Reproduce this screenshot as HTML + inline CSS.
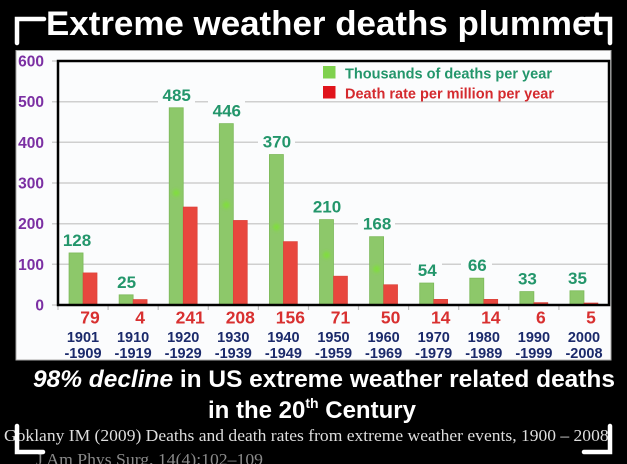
<!DOCTYPE html>
<html><head><meta charset="utf-8"><style>
html,body{margin:0;padding:0;background:#000;}
svg{display:block;}
text{font-family:"Liberation Sans",Arial,sans-serif;}
.serif{font-family:"Liberation Serif","Times New Roman",serif;}
</style></head><body>
<svg width="627" height="464" viewBox="0 0 627 464" xmlns="http://www.w3.org/2000/svg">
<defs><filter id="bl" x="-1" y="-1" width="3" height="3"><feGaussianBlur stdDeviation="1.6"/></filter></defs>
<rect width="627" height="464" fill="#000"/>
<!-- Title -->
<text x="46" y="35" font-size="34" font-weight="bold" fill="#fff" textLength="557" lengthAdjust="spacingAndGlyphs">Extreme weather deaths plummet</text>

<!-- Panel -->
<rect x="16" y="50.5" width="595" height="309.5" fill="#fbfcfd" stroke="#a8a8a8" stroke-width="1"/>

<!-- gridlines -->
<g stroke="#cfcfcf" stroke-width="1.5">
<line x1="52" y1="61" x2="58" y2="61"/>
<line x1="52" y1="101.7" x2="609" y2="101.7"/>
<line x1="52" y1="142.3" x2="609" y2="142.3"/>
<line x1="52" y1="183" x2="609" y2="183"/>
<line x1="52" y1="223.7" x2="609" y2="223.7"/>
<line x1="52" y1="264.3" x2="609" y2="264.3"/>
<line x1="52" y1="305" x2="58" y2="305"/>
</g>
<!-- bottom ticks -->
<g stroke="#bdbdbd" stroke-width="1.2">
<line x1="58" y1="305" x2="58" y2="310"/><line x1="108.1" y1="305" x2="108.1" y2="310"/><line x1="158.2" y1="305" x2="158.2" y2="310"/><line x1="208.3" y1="305" x2="208.3" y2="310"/><line x1="258.4" y1="305" x2="258.4" y2="310"/><line x1="308.5" y1="305" x2="308.5" y2="310"/><line x1="358.5" y1="305" x2="358.5" y2="310"/><line x1="408.6" y1="305" x2="408.6" y2="310"/><line x1="458.7" y1="305" x2="458.7" y2="310"/><line x1="508.8" y1="305" x2="508.8" y2="310"/><line x1="558.9" y1="305" x2="558.9" y2="310"/>
</g>

<!-- Y labels -->
<g font-size="15.5" font-weight="bold" fill="#7b2fa3" text-anchor="end">
<text x="44" y="66.5">600</text>
<text x="44" y="107.2">500</text>
<text x="44" y="147.8">400</text>
<text x="44" y="188.5">300</text>
<text x="44" y="229.2">200</text>
<text x="44" y="269.8">100</text>
<text x="44" y="310.5">0</text>
</g>

<!-- Green bars -->
<g fill="#8dc86a" stroke="#7cb95a" stroke-width="0.8">
<rect x="69.05" y="252.95" width="14" height="52.05"/>
<rect x="119.14" y="294.83" width="14" height="10.17"/>
<rect x="169.23" y="107.77" width="14" height="197.23"/>
<rect x="219.32" y="123.63" width="14" height="181.37"/>
<rect x="269.41" y="154.53" width="14" height="150.47"/>
<rect x="319.5" y="219.6" width="14" height="85.4"/>
<rect x="369.59" y="236.68" width="14" height="68.32"/>
<rect x="419.68" y="283.04" width="14" height="21.96"/>
<rect x="469.77" y="278.16" width="14" height="26.84"/>
<rect x="519.86" y="291.58" width="14" height="13.42"/>
<rect x="569.95" y="290.77" width="14" height="14.23"/>
</g>
<!-- artifacts -->
<g fill="#7ee236" filter="url(#bl)" opacity="0.85">
<circle cx="176.2" cy="193" r="3.5"/>
<circle cx="226.3" cy="205" r="3.5"/>
<circle cx="276.4" cy="227" r="3.5"/>
<circle cx="326.5" cy="255" r="3.5"/>
<circle cx="376.6" cy="269" r="3.5"/>
</g>
<!-- Red bars -->
<g fill="#e8473e" stroke="#d94038" stroke-width="0.6">
<rect x="83.05" y="272.87" width="14" height="32.13"/>
<rect x="133.14" y="299.5" width="14" height="5.5"/>
<rect x="183.23" y="206.99" width="14" height="98.01"/>
<rect x="233.32" y="220.41" width="14" height="84.59"/>
<rect x="283.41" y="241.56" width="14" height="63.44"/>
<rect x="333.5" y="276.13" width="14" height="28.87"/>
<rect x="383.59" y="284.67" width="14" height="20.33"/>
<rect x="433.68" y="299.31" width="14" height="5.69"/>
<rect x="483.77" y="299.31" width="14" height="5.69"/>
<rect x="533.86" y="302.56" width="14" height="2.44"/>
<rect x="583.95" y="302.97" width="14" height="2.03"/>
</g>

<!-- label backgrounds -->
<g fill="#fbfcfd">
<rect x="59" y="230" width="36" height="19"/>
<rect x="111" y="272" width="31" height="19"/>
<rect x="158" y="85" width="37" height="19"/>
<rect x="208" y="101" width="37" height="19"/>
<rect x="258" y="132" width="37" height="19"/>
<rect x="308" y="197" width="37" height="19"/>
<rect x="358" y="214" width="37" height="19"/>
<rect x="411" y="260" width="31" height="19"/>
<rect x="461" y="255" width="31" height="19"/>
<rect x="511" y="269" width="31" height="19"/>
<rect x="561" y="268" width="31" height="19"/>
</g>
<!-- green value labels -->
<g font-size="17" font-weight="bold" fill="#23966b" text-anchor="middle">
<text x="77" y="246">128</text>
<text x="126.6" y="287.8">25</text>
<text x="176.7" y="100.8">485</text>
<text x="226.8" y="116.6">446</text>
<text x="276.9" y="147.5">370</text>
<text x="327" y="212.6">210</text>
<text x="377.1" y="229.7">168</text>
<text x="427.2" y="276">54</text>
<text x="477.3" y="271.2">66</text>
<text x="527.4" y="284.6">33</text>
<text x="577.5" y="283.8">35</text>
</g>

<!-- Frame -->
<rect x="58" y="61" width="551" height="244" fill="none" stroke="#000" stroke-width="2.5"/>

<!-- Legend -->
<rect x="323" y="66" width="12.5" height="12.5" fill="#7fd14e"/>
<rect x="323" y="86" width="12.5" height="12.5" fill="#e0141c"/>
<text x="345" y="78.5" font-size="14.5" font-weight="bold" fill="#23966b" textLength="207" lengthAdjust="spacingAndGlyphs">Thousands of deaths per year</text>
<text x="345" y="98.5" font-size="14.5" font-weight="bold" fill="#d42a2e" textLength="209" lengthAdjust="spacingAndGlyphs">Death rate per million per year</text>

<!-- red value labels -->
<g font-size="17.5" font-weight="bold" fill="#d83030" text-anchor="middle">
<text x="90" y="323.5">79</text>
<text x="140.1" y="323.5">4</text>
<text x="190.2" y="323.5">241</text>
<text x="240.3" y="323.5">208</text>
<text x="290.4" y="323.5">156</text>
<text x="340.5" y="323.5">71</text>
<text x="390.6" y="323.5">50</text>
<text x="440.7" y="323.5">14</text>
<text x="490.8" y="323.5">14</text>
<text x="540.9" y="323.5">6</text>
<text x="591" y="323.5">5</text>
</g>
<!-- year labels -->
<g font-size="14.5" font-weight="bold" fill="#1b2a6b" text-anchor="middle">
<text x="83" y="342">1901</text><text x="83" y="358">-1909</text>
<text x="133.1" y="342">1910</text><text x="133.1" y="358">-1919</text>
<text x="183.2" y="342">1920</text><text x="183.2" y="358">-1929</text>
<text x="233.3" y="342">1930</text><text x="233.3" y="358">-1939</text>
<text x="283.4" y="342">1940</text><text x="283.4" y="358">-1949</text>
<text x="333.5" y="342">1950</text><text x="333.5" y="358">-1959</text>
<text x="383.6" y="342">1960</text><text x="383.6" y="358">-1969</text>
<text x="433.7" y="342">1970</text><text x="433.7" y="358">-1979</text>
<text x="483.8" y="342">1980</text><text x="483.8" y="358">-1989</text>
<text x="533.9" y="342">1990</text><text x="533.9" y="358">-1999</text>
<text x="584" y="342">2000</text><text x="584" y="358">-2008</text>
</g>

<!-- Bottom text -->
<text x="33" y="387" font-size="24" font-weight="bold" fill="#fff" textLength="582" lengthAdjust="spacingAndGlyphs"><tspan font-style="italic">98% decline</tspan> in US extreme weather related deaths</text>
<text x="208" y="418" font-size="24" font-weight="bold" fill="#fff">in the 20<tspan font-size="14" dy="-10">th</tspan><tspan dy="10"> Century</tspan></text>

<text class="serif" x="4" y="441" font-size="17" fill="#dedede" textLength="609" lengthAdjust="spacingAndGlyphs">Goklany IM (2009) Deaths and death rates from extreme weather events, 1900 – 2008.</text>
<text class="serif" x="36" y="465" font-size="17" fill="#8a8a8a" textLength="227" lengthAdjust="spacingAndGlyphs">J Am Phys Surg, 14(4):102–109</text>

<!-- Corner brackets -->
<g stroke="#fff" stroke-width="4.5" fill="none" stroke-linecap="round" stroke-linejoin="miter">
<path d="M17,43 V19 H44"/>
<path d="M586,19 H610 V43"/>
<path d="M17,426 V452 H43"/>
<path d="M584,452 H610 V426"/>
</g>
</svg>
</body></html>
